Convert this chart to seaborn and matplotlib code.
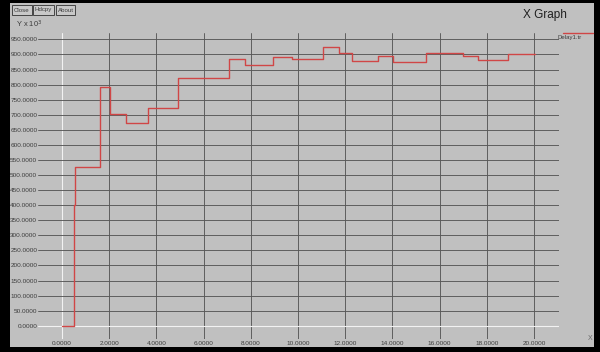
import matplotlib
matplotlib.use("Agg")
import matplotlib.pyplot as plt
from matplotlib.patches import Rectangle
from matplotlib.lines import Line2D
import seaborn as sns
import pandas as pd

# Simulation trace: end-to-end delay (x 10^3) over time, held constant between samples
times = [0.0, 0.51, 0.56, 1.62, 2.03, 2.72, 3.63, 4.93, 7.08, 7.75, 8.93, 9.73,
         11.05, 11.75, 12.30, 13.40, 14.04, 15.41, 17.00, 17.64, 18.91, 20.04]
delay = [0, 400, 527, 791, 701, 672, 724, 821, 884, 865, 892, 886,
         924, 904, 879, 895, 876, 906, 895, 882, 900, 900]

x_ticks = [0, 2, 4, 6, 8, 10, 12, 14, 16, 18, 20]
y_ticks = list(range(0, 1000, 50))
series_name = "Delay1.tr"
buttons = ["Close", "Hdcpy", "About"]

W, H = 600, 352
BG = "#c0c0c0"
GRID = "#585858"
TEXT = "#3c3c3c"
LINE = "#d04646"

sns.set_style("white")
plt.rcParams["font.family"] = ["Liberation Sans", "DejaVu Sans"]

fig = plt.figure(figsize=(W / 100, H / 100), dpi=100, facecolor="black")


def fx(px):
    return px / W


def fy(py):
    return 1 - py / H


# window panel inside the black frame (kept behind the axes)
fig.patches.append(Rectangle((fx(10), fy(347)), fx(594) - fx(10), fy(3) - fy(347),
                             transform=fig.transFigure, facecolor=BG,
                             edgecolor="none", zorder=-5))

# plotting area
ax = fig.add_axes([fx(38), fy(339), fx(559) - fx(38), fy(33) - fy(339)])
ax.set_facecolor("none")
for s in ax.spines.values():
    s.set_visible(False)

df = pd.DataFrame({"time": times, "delay": delay})
sns.lineplot(data=df, x="time", y="delay", drawstyle="steps-post",
             estimator=None, color=LINE, linewidth=1.0, ax=ax, zorder=5)

ax.set_xlim(-1.017, 21.06)
ax.set_ylim(-44.1, 971.2)
ax.set_xticks(x_ticks)
ax.set_yticks(y_ticks)
ax.set_xticklabels([f"{v:.4f}" for v in x_ticks])
ax.set_yticklabels([f"{v:.4f}" for v in y_ticks])
ax.tick_params(axis="both", length=0, labelsize=4.6, labelcolor=TEXT)
ax.tick_params(axis="y", pad=0.5)
ax.tick_params(axis="x", pad=1.5)
ax.set_xlabel("")
ax.set_ylabel("")

ax.grid(True, color=GRID, linewidth=0.65)
for gl in ax.get_xgridlines()[:1] + ax.get_ygridlines()[:1]:
    gl.set_color("#f2f2f2")
    gl.set_linewidth(0.8)

# window furniture
bx = [(12, 32), (33, 54), (56, 75)]
for (x0, x1), name in zip(bx, buttons):
    fig.patches.append(Rectangle((fx(x0), fy(15)), fx(x1) - fx(x0), fy(5) - fy(15),
                                 transform=fig.transFigure, facecolor="#c8c8c8",
                                 edgecolor="#303030", linewidth=0.6, zorder=2))
    fig.text(fx((x0 + x1) / 2), fy(10), name, ha="center", va="center",
             fontsize=4.4, color=TEXT)

fig.text(fx(16), fy(24), r"Y x 10$^3$", ha="left", va="center",
         fontsize=5.4, color=TEXT)
fig.text(fx(545), fy(15), "X Graph", ha="center", va="center",
         fontsize=8.5, color="#202020")
fig.text(fx(570), fy(37.5), series_name, ha="center", va="center",
         fontsize=4.3, color=TEXT)
fig.lines.append(Line2D([fx(563), fx(593)], [fy(33), fy(33)],
                        transform=fig.transFigure, color=LINE, linewidth=1.0))
fig.text(fx(590), fy(338), "X", ha="center", va="center",
         fontsize=5, color="#6a6a6a")

fig.savefig("out.png", dpi=100, facecolor=fig.get_facecolor())
